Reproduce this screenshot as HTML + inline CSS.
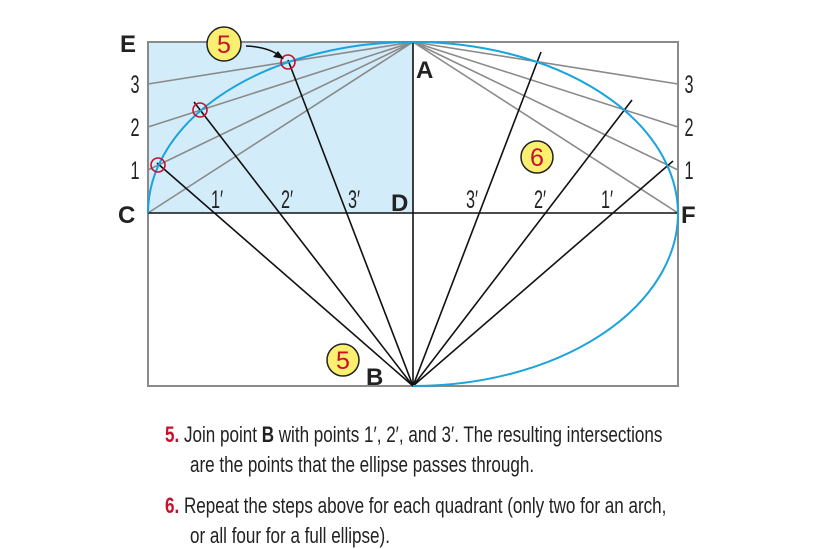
<!DOCTYPE html>
<html><head><meta charset="utf-8"><style>
html,body{margin:0;padding:0;background:#fff;}
body{width:813px;height:545px;overflow:hidden;position:relative;}
svg{position:absolute;left:0;top:0;}
.t{position:absolute;left:165px;font-family:"Liberation Sans",sans-serif;font-size:22px;color:#222;white-space:nowrap;transform:scaleX(0.775);transform-origin:0 0;}
.n{color:#c8102e;font-weight:bold;}
</style></head><body>
<svg width="813" height="545" viewBox="0 0 813 545" font-family="Liberation Sans, sans-serif">
<rect x="148" y="42" width="265" height="171" fill="#d3ecf9"/>
<rect x="148" y="42" width="530" height="344" fill="none" stroke="#8a8a8a" stroke-width="2"/>
<g stroke="#8a8a8a" stroke-width="1.6">
<line x1="413" y1="42" x2="148" y2="84"/><line x1="413" y1="42" x2="148" y2="127"/>
<line x1="413" y1="42" x2="148" y2="170"/><line x1="413" y1="42" x2="148" y2="213"/>
<line x1="413" y1="42" x2="678" y2="84"/><line x1="413" y1="42" x2="678" y2="127"/>
<line x1="413" y1="42" x2="678" y2="170"/><line x1="413" y1="42" x2="678" y2="213"/>
</g>
<g stroke="#111" stroke-width="1.6">
<line x1="148" y1="213" x2="678" y2="213"/>
<line x1="413" y1="42" x2="413" y2="386"/>
<line x1="413" y1="386" x2="157" y2="163"/>
<line x1="413" y1="386" x2="194" y2="102"/>
<line x1="413" y1="386" x2="288" y2="60"/>
<line x1="413" y1="386" x2="541" y2="52"/>
<line x1="413" y1="386" x2="632" y2="100"/>
<line x1="413" y1="386" x2="673" y2="161"/>
</g>
<path d="M148,213 A265,171 0 0 1 413,42 A265,172 0 0 1 678,213 A265,173 0 0 1 413,386" fill="none" stroke="#1aa3dc" stroke-width="2"/>
<g fill="none" stroke="#c8102e" stroke-width="1.6">
<circle cx="158" cy="165" r="7"/><circle cx="200" cy="110" r="7"/><circle cx="288" cy="62" r="7"/>
</g>
<path d="M246,46 Q268,47 280,56" fill="none" stroke="#111" stroke-width="1.5"/>
<polygon points="284,59 273,57 278,51" fill="#111"/>
<g fill="#fbef6f" stroke="#222" stroke-width="1.5">
<circle cx="224" cy="44" r="17"/><circle cx="537" cy="157" r="16"/><circle cx="343" cy="360" r="16"/>
</g>
<g fill="#c8102e" font-size="25" text-anchor="middle">
<text x="224" y="53">5</text><text x="537" y="166">6</text><text x="343" y="369">5</text>
</g>
<g fill="#222" font-size="24" font-weight="bold">
<text x="120" y="52">E</text><text x="118" y="223">C</text><text x="416" y="78">A</text>
<text x="391" y="211">D</text><text x="681" y="223">F</text><text x="366" y="385">B</text>
</g>
<g fill="#222" font-size="25" text-anchor="middle">
<text transform="translate(135,93) scale(0.65,1)">3</text>
<text transform="translate(135,136) scale(0.65,1)">2</text>
<text transform="translate(135,179) scale(0.65,1)">1</text>
<text transform="translate(689,93) scale(0.65,1)">3</text>
<text transform="translate(689,136) scale(0.65,1)">2</text>
<text transform="translate(689,179) scale(0.65,1)">1</text>
<text transform="translate(217,208) scale(0.65,1)">1′</text>
<text transform="translate(287,208) scale(0.65,1)">2′</text>
<text transform="translate(354,208) scale(0.65,1)">3′</text>
<text transform="translate(472,208) scale(0.65,1)">3′</text>
<text transform="translate(540,208) scale(0.65,1)">2′</text>
<text transform="translate(607,208) scale(0.65,1)">1′</text>
</g>
</svg>
<div class="t" style="top:422px"><span class="n">5.</span> Join point <b>B</b> with points 1′, 2′, and 3′. The resulting intersections</div>
<div class="t" style="top:452px;left:190px">are the points that the ellipse passes through.</div>
<div class="t" style="top:493px"><span class="n">6.</span> Repeat the steps above for each quadrant (only two for an arch,</div>
<div class="t" style="top:523px;left:190px">or all four for a full ellipse).</div>
</body></html>
